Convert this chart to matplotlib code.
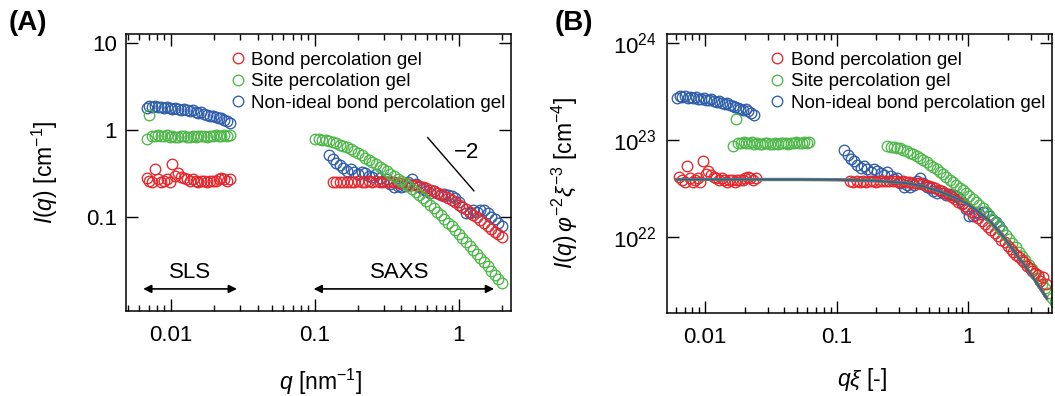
import numpy as np
import matplotlib.pyplot as plt
from matplotlib.lines import Line2D
from matplotlib.ticker import (FixedLocator, FixedFormatter, LogLocator,
                               NullLocator, NullFormatter)

plt.rcParams['font.family'] = ['Liberation Sans', 'DejaVu Sans']
plt.rcParams['mathtext.fontset'] = 'custom'
plt.rcParams['mathtext.rm'] = 'Liberation Sans'
plt.rcParams['mathtext.it'] = 'Liberation Sans:italic'
plt.rcParams['mathtext.bf'] = 'Liberation Sans:bold'

RED = '#e8262b'
GREEN = '#4db848'
BLUE = '#2e5dab'

TICK_FS = 16
LABEL_FS = 16.5
LEGEND_FS = 13.6

# SLS scattering vectors [nm^-1]
sls_q = [0.00676, 0.00708, 0.00741, 0.00776, 0.00813, 0.00851, 0.00891, 0.00933,
         0.00977, 0.01023, 0.01072, 0.01122, 0.01175, 0.0123, 0.01288, 0.01349,
         0.01413, 0.01479, 0.01549, 0.01622, 0.01698, 0.01778, 0.01862, 0.0195,
         0.02042, 0.02138, 0.02239, 0.02344, 0.02455, 0.0257]

# SLS intensities [cm^-1]
sls_bond = [0.28, 0.26, 0.25, 0.36, 0.27, 0.25, 0.26, 0.27, 0.25, 0.41,
            0.30, 0.32, 0.29, 0.28, 0.27, 0.26, 0.27, 0.26, 0.25, 0.26,
            0.26, 0.25, 0.26, 0.26, 0.26, 0.27, 0.28, 0.27, 0.26, 0.27]
sls_site = [0.79, 1.50, 0.85, 0.86, 0.87, 0.86, 0.85, 0.87, 0.84, 0.85,
            0.83, 0.84, 0.85, 0.86, 0.84, 0.83, 0.85, 0.84, 0.85, 0.86,
            0.85, 0.84, 0.86, 0.85, 0.87, 0.86, 0.86, 0.87, 0.86, 0.87]
sls_nonideal = [1.80, 1.90, 1.85, 1.88, 1.82, 1.86, 1.80, 1.84, 1.78, 1.76,
                1.80, 1.74, 1.72, 1.76, 1.70, 1.66, 1.68, 1.62, 1.58, 1.60,
                1.54, 1.50, 1.46, 1.44, 1.40, 1.36, 1.38, 1.32, 1.28, 1.22]

# SAXS scattering vectors [nm^-1]
saxs_q = [0.100, 0.106, 0.112, 0.119, 0.126, 0.133, 0.141, 0.150, 0.158, 0.168,
          0.178, 0.188, 0.200, 0.211, 0.224, 0.237, 0.251, 0.266, 0.282, 0.299,
          0.316, 0.335, 0.355, 0.376, 0.398, 0.422, 0.447, 0.473, 0.501, 0.531,
          0.562, 0.596, 0.631, 0.668, 0.708, 0.750, 0.794, 0.841, 0.891, 0.944,
          1.000, 1.059, 1.122, 1.189, 1.259, 1.334, 1.413, 1.496, 1.585, 1.679,
          1.778, 1.884, 1.995]

# SAXS intensities [cm^-1]; each series starts at its own q index
saxs_site = [0.79, 0.78, 0.77, 0.76, 0.75, 0.73, 0.71, 0.68, 0.66, 0.63,
             0.60, 0.57, 0.54, 0.51, 0.48, 0.455, 0.43, 0.405, 0.38, 0.355,
             0.335, 0.315, 0.295, 0.277, 0.26, 0.243, 0.226, 0.21, 0.195, 0.18,
             0.166, 0.152, 0.139, 0.127, 0.115, 0.105, 0.095, 0.086, 0.078, 0.071,
             0.064, 0.058, 0.052, 0.047, 0.042, 0.038, 0.034, 0.030, 0.027, 0.024,
             0.0215, 0.0193, 0.0173]
saxs_bond = [0.255, 0.25, 0.255, 0.25, 0.255, 0.25, 0.255, 0.256, 0.25, 0.255,
             0.256, 0.254, 0.256, 0.252, 0.255, 0.25, 0.252, 0.25, 0.248, 0.245,
             0.243, 0.24, 0.236, 0.232, 0.228, 0.222, 0.215, 0.207, 0.199, 0.191,
             0.183, 0.174, 0.165, 0.156, 0.147, 0.139, 0.13, 0.122, 0.114, 0.106,
             0.099, 0.092, 0.085, 0.079, 0.073, 0.068, 0.063, 0.059]
saxs_nonideal = [0.52, 0.47, 0.42, 0.40, 0.37, 0.34, 0.36, 0.33, 0.31, 0.33,
                 0.32, 0.30, 0.29, 0.31, 0.28, 0.26, 0.27, 0.24, 0.22, 0.23,
                 0.22, 0.23, 0.25, 0.27, 0.24, 0.22, 0.21, 0.20, 0.19, 0.20,
                 0.19, 0.18, 0.185, 0.18, 0.175, 0.165, 0.15, 0.13, 0.11, 0.11,
                 0.12, 0.115, 0.12, 0.12, 0.11, 0.10, 0.095, 0.085, 0.078]
start_site, start_bond, start_nonideal = 0, 5, 4

# correlation length xi [nm] and phi^-2 xi^-3 factor [cm^-3] per gel
xi_bond, xi_site, xi_nonideal = 0.945, 2.42, 0.91
norm_bond, norm_site, norm_nonideal = 1.48e23, 1.09e23, 1.5e23

# high-q part of the bond gel SAXS shown only in the scaled plot
tail_qxi = [1.99, 2.1, 2.2, 2.31, 2.42, 2.54, 2.66, 2.79, 2.93, 3.07,
            3.22, 3.37, 3.53, 3.7, 3.88]
tail_bond = [8.0e21, 7.4e21, 6.9e21, 6.5e21, 6.1e21, 5.7e21, 5.4e21, 5.0e21,
             4.7e21, 4.4e21, 4.2e21, 4.0e21, 3.5e21, 3.8e21, 3.2e21]

# master curve
fit_qxi = [0.0061, 0.05, 0.1, 0.2, 0.34, 0.45, 0.61, 0.78, 0.97, 1.2, 1.46,
           1.7, 1.96, 2.35, 2.78, 3.3, 3.95]
fit_val = [3.9e22, 3.9e22, 3.88e22, 3.78e22, 3.57e22, 3.32e22, 2.92e22,
           2.55e22, 2.21e22, 1.8e22, 1.45e22, 1.15e22, 9.0e21, 6.4e21,
           4.7e21, 3.35e21, 2.3e21]

labels = ['Bond percolation gel', 'Site percolation gel',
          'Non-ideal bond percolation gel']

mk = dict(marker='o', ls='none', mfc='none', ms=7.6, mew=0.95)


def style_axis(ax, xlim, ylim, yticks, ylabels):
    ax.set_xscale('log')
    ax.set_yscale('log')
    ax.set_xlim(xlim)
    ax.set_ylim(ylim)
    ax.xaxis.set_major_locator(FixedLocator([0.01, 0.1, 1]))
    ax.xaxis.set_major_formatter(FixedFormatter(['0.01', '0.1', '1']))
    ax.xaxis.set_minor_locator(LogLocator(base=10, subs=np.arange(2, 10), numticks=20))
    ax.xaxis.set_minor_formatter(NullFormatter())
    ax.yaxis.set_major_locator(FixedLocator(yticks))
    ax.yaxis.set_major_formatter(FixedFormatter(ylabels))
    ax.yaxis.set_minor_locator(NullLocator())
    ax.tick_params(which='both', direction='in', top=True, right=True,
                   width=1.0, labelsize=TICK_FS)
    ax.tick_params(which='major', length=8.5)
    ax.tick_params(which='minor', length=4.3)
    ax.tick_params(axis='x', pad=10)
    ax.tick_params(axis='y', pad=7)
    for s in ax.spines.values():
        s.set_linewidth(1.1)


def add_legend(ax, x):
    handles = [Line2D([], [], mec=c, **mk) for c in (RED, GREEN, BLUE)]
    ax.legend(handles, labels, loc='upper left', bbox_to_anchor=(x, 0.937),
              frameon=False, fontsize=LEGEND_FS, handlelength=0.7,
              handletextpad=0.35, labelspacing=0.23, borderpad=0,
              borderaxespad=0, numpoints=1)


fig = plt.figure(figsize=(10.55, 3.96), dpi=100)

# (A) raw intensity
axA = fig.add_axes([0.1199, 0.2146, 0.3645, 0.6995])
axA.plot(sls_q, sls_nonideal, mec=BLUE, **mk)
axA.plot(saxs_q[start_nonideal:], saxs_nonideal, mec=BLUE, **mk)
axA.plot(sls_q, sls_bond, mec=RED, **mk)
axA.plot(saxs_q[start_bond:], saxs_bond, mec=RED, **mk)
axA.plot(sls_q, sls_site, mec=GREEN, **mk)
axA.plot(saxs_q[start_site:], saxs_site, mec=GREEN, **mk)
style_axis(axA, (0.0049, 2.31), (0.0083, 12.7), [0.1, 1, 10], ['0.1', '1', '10'])

arrow = dict(arrowstyle='<|-|>', color='black', lw=1.2, mutation_scale=12,
             shrinkA=0, shrinkB=0)
axA.annotate('', xy=(0.0064, 0.0149), xytext=(0.0287, 0.0149), arrowprops=arrow)
axA.annotate('', xy=(0.098, 0.0149), xytext=(1.76, 0.0149), arrowprops=arrow)
axA.text(0.01355, 0.0233, 'SLS', fontsize=TICK_FS, ha='center', va='center')
axA.text(0.39, 0.0233, 'SAXS', fontsize=TICK_FS, ha='center', va='center')
axA.plot([0.609, 1.274], [0.817, 0.2], color='black', lw=1.0)
axA.text(1.13, 0.555, '\u22122', fontsize=TICK_FS, ha='center', va='center')

axA.set_xlabel(r'$q$ [nm$^{-1}$]', fontsize=LABEL_FS)
axA.set_ylabel(r'$I$($q$) [cm$^{-1}$]', fontsize=LABEL_FS)
axA.xaxis.set_label_coords(0.505, -0.2)
axA.yaxis.set_label_coords(-0.173, 0.5)
add_legend(axA, 0.272)

# (B) scaled intensity against q*xi
axB = fig.add_axes([0.6325, 0.2096, 0.3646, 0.7045])
for q, I, s, xi, nf, c in [
        (sls_q, sls_nonideal, 0, xi_nonideal, norm_nonideal, BLUE),
        (saxs_q, saxs_nonideal, start_nonideal, xi_nonideal, norm_nonideal, BLUE),
        (sls_q, sls_bond, 0, xi_bond, norm_bond, RED),
        (saxs_q, saxs_bond, start_bond, xi_bond, norm_bond, RED),
        (sls_q, sls_site, 0, xi_site, norm_site, GREEN),
        (saxs_q, saxs_site, start_site, xi_site, norm_site, GREEN)]:
    axB.plot(np.array(q[s:]) * xi, np.array(I) * nf, mec=c, **mk)
axB.plot(tail_qxi, tail_bond, mec=RED, **mk)
axB.plot(fit_qxi, fit_val, color=RED, lw=2.4)
axB.plot(fit_qxi, fit_val, color=GREEN, lw=2.0)
axB.plot(fit_qxi, fit_val, color='#37609a', lw=1.5)
style_axis(axB, (0.00517, 4.32), (10 ** 21.21, 10 ** 24.096), [1e22, 1e23, 1e24],
           ['10$^{22}$', '10$^{23}$', '10$^{24}$'])
axB.tick_params(axis='y', pad=7.5)

axB.set_xlabel(r'$q\xi$ [-]', fontsize=LABEL_FS)
axB.set_ylabel(r'$I$($q$)$\,\varphi^{-2}\xi^{-3}$ [cm$^{-4}$]', fontsize=LABEL_FS)
axB.xaxis.set_label_coords(0.505, -0.19)
axB.yaxis.set_label_coords(-0.227, 0.466)
add_legend(axB, 0.269)

fig.text(0.008, 0.975, '(A)', fontsize=20, fontweight='bold', va='top')
fig.text(0.526, 0.975, '(B)', fontsize=20, fontweight='bold', va='top')

fig.savefig('out.png', dpi=100)
